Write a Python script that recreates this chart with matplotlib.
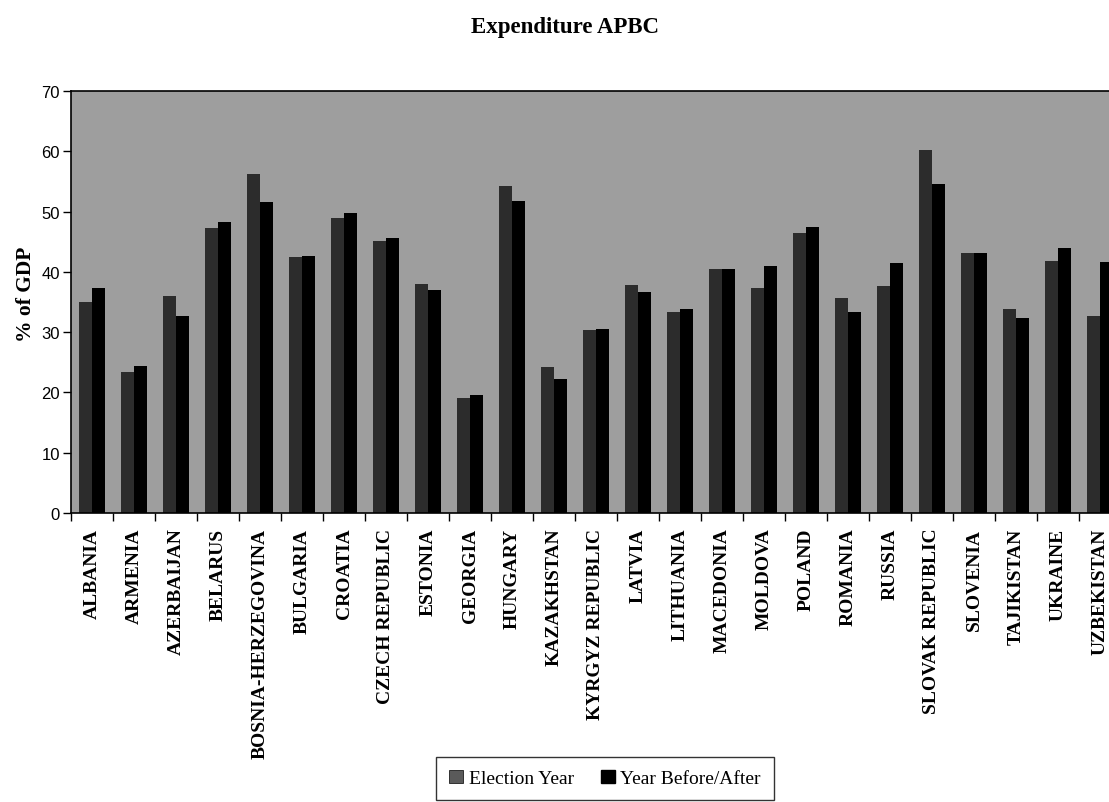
import matplotlib
matplotlib.use("Agg")
import matplotlib.pyplot as plt
import numpy as np
from matplotlib.patches import Patch

countries = ["ALBANIA", "ARMENIA", "AZERBAIJAN", "BELARUS", "BOSNIA-HERZEGOVINA",
             "BULGARIA", "CROATIA", "CZECH REPUBLIC", "ESTONIA", "GEORGIA",
             "HUNGARY", "KAZAKHSTAN", "KYRGYZ REPUBLIC", "LATVIA", "LITHUANIA",
             "MACEDONIA", "MOLDOVA", "POLAND", "ROMANIA", "RUSSIA",
             "SLOVAK REPUBLIC", "SLOVENIA", "TAJIKISTAN", "UKRAINE", "UZBEKISTAN"]
election_year = [35.0, 23.4, 36.0, 47.2, 56.3, 42.4, 49.0, 45.2, 38.0, 19.0,
                 54.2, 24.3, 30.4, 37.8, 33.3, 40.5, 37.4, 46.4, 35.7, 37.7,
                 60.2, 43.1, 33.9, 41.8, 32.7]
year_before_after = [37.3, 24.4, 32.7, 48.2, 51.6, 42.7, 49.8, 45.6, 37.0, 19.6,
                     51.8, 22.3, 30.6, 36.7, 33.8, 40.4, 41.0, 47.5, 33.4, 41.5,
                     54.6, 43.1, 32.3, 43.9, 41.6]
yticks = [0, 10, 20, 30, 40, 50, 60, 70]

W, H = 1109, 803
fig = plt.figure(figsize=(W / 100, H / 100), dpi=100)
fig.patch.set_facecolor("white")

left, right, bottom, top = 71, 1121, 514, 92
ax = fig.add_axes([left / W, 1 - bottom / H, (right - left) / W, (bottom - top) / H])
ax.set_facecolor("#9e9e9e")

x = np.arange(len(countries))
bw = 0.32
ax.bar(x - bw / 2, election_year, width=bw, color="#2c2c2c", edgecolor="none",
       label="Election Year", zorder=2)
ax.bar(x + bw / 2, year_before_after, width=bw, color="#000000", edgecolor="none",
       label="Year Before/After", zorder=2)

ax.set_xlim(-0.5, len(countries) - 0.5)
ax.set_ylim(0, 70)
ax.set_yticks(yticks)
ax.set_yticklabels([str(v) for v in yticks], fontfamily="Liberation Sans", fontsize=12)
ax.tick_params(axis="y", direction="out", length=6, width=1, color="black", pad=2)

ax.set_xticks(x)
ax.set_xticklabels(countries, rotation=90, fontfamily="Liberation Serif",
                   fontweight="bold", fontsize=14, va="top", ha="center")
ax.tick_params(axis="x", which="major", length=0, pad=10.5)
ax.set_xticks(np.arange(-0.5, len(countries) + 0.5, 1), minor=True)
ax.tick_params(axis="x", which="minor", direction="out", length=6, width=1, color="black")

for s in ["left", "bottom", "top"]:
    ax.spines[s].set_color("black")
    ax.spines[s].set_linewidth(1.2)
ax.spines["right"].set_visible(False)

ax.set_ylabel("% of GDP", fontfamily="Liberation Serif", fontweight="bold", fontsize=15.5)
ax.yaxis.set_label_coords(-(left - 36) / (right - left), 0.52)

fig.text(565 / W, 1 - 27 / H, "Expenditure APBC", ha="center", va="center",
         fontfamily="Liberation Serif", fontweight="bold", fontsize=16.5)

handles = [Patch(facecolor="#5a5a5a", edgecolor="black", linewidth=0.5, label="Election Year"),
           Patch(facecolor="#000000", edgecolor="black", label="Year Before/After")]
leg = fig.legend(handles=handles, loc="upper center", ncol=2,
                 bbox_to_anchor=(605 / W, 1 - 758 / H),
                 prop={"family": "Liberation Serif", "size": 14},
                 frameon=True, fancybox=False, edgecolor="black",
                 handlelength=0.7, handleheight=0.7, handletextpad=0.3,
                 columnspacing=1.4, borderpad=0.65, borderaxespad=0)
leg.get_frame().set_linewidth(1.0)

fig.savefig("out.png", dpi=100)
